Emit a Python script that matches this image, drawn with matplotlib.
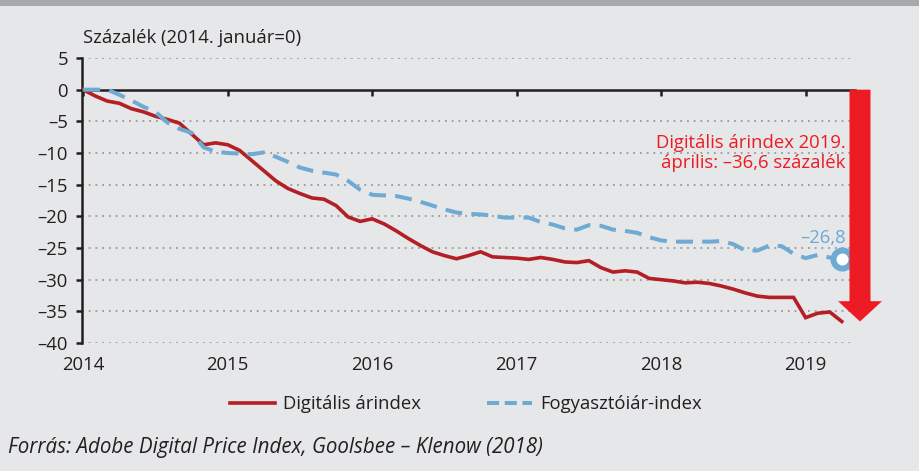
import matplotlib
matplotlib.use("Agg")
import matplotlib.pyplot as plt
import matplotlib.transforms as mtransforms
from matplotlib.patches import Polygon, Rectangle
from matplotlib.lines import Line2D
from matplotlib.ticker import FuncFormatter

plt.rcParams['font.family'] = ['Open Sans', 'DejaVu Sans']

# Monthly data, Jan 2014 .. Apr 2019 (percent, Jan 2014 = 0)
digital = [0, -1.0, -1.8, -2.15, -3.0, -3.5, -4.2, -4.7, -5.3, -7.0, -8.7, -8.4,
           -8.7, -9.6, -11.2, -12.8, -14.4, -15.6, -16.4, -17.1, -17.3, -18.3, -20.1, -20.8,
           -20.4, -21.2, -22.3, -23.5, -24.6, -25.6, -26.2, -26.7, -26.2, -25.6, -26.4, -26.5,
           -26.6, -26.8, -26.5, -26.8, -27.2, -27.3, -27.0, -28.1, -28.8, -28.6, -28.8, -29.8,
           -30.0, -30.2, -30.5, -30.4, -30.6, -31.0, -31.5, -32.1, -32.6, -32.8, -32.8, -32.8,
           -36.0, -35.3, -35.1, -36.6]
cpi = [0, 0, 0, -0.8, -1.7, -2.7, -3.5, -5.2, -6.2, -6.8, -9.1, -9.8,
       -10.0, -10.1, -10.2, -9.9, -10.6, -11.4, -12.3, -12.8, -13.1, -13.4, -14.4, -15.8,
       -16.6, -16.7, -16.8, -17.2, -17.7, -18.3, -18.9, -19.4, -19.6, -19.7, -19.9, -20.2,
       -20.2, -20.2, -20.9, -21.3, -21.9, -22.1, -21.4, -21.5, -22.1, -22.3, -22.6, -23.3,
       -23.8, -24.0, -24.0, -24.0, -24.0, -23.9, -24.4, -25.4, -25.4, -24.6, -24.7, -25.9,
       -26.6, -26.1, -26.5, -26.8]
months = list(range(len(digital)))
year_labels = ['2014', '2015', '2016', '2017', '2018', '2019']
year_pos = [12 * i for i in range(len(year_labels))]
y_ticks = list(range(5, -41, -5))

series_names = ['Digitális árindex', 'Fogyasztóiár-index']
red = '#b31f25'
blue = '#6faad4'
arrow_red = '#ed1c24'
bg = '#e6e7e8'
ink = '#231f20'
FS = 13.3

W, H = 919, 471
fig = plt.figure(figsize=(W / 100, H / 100), dpi=100, facecolor=bg)
# top dark band
fig.patches.append(Rectangle((0, (H - 6) / H), 1, 6 / H, transform=fig.transFigure,
                             facecolor='#a7a9ac', edgecolor='none', zorder=0))

ax = fig.add_axes([82 / W, 1 - 343 / H, (855 - 82) / W, (343 - 58) / H])
ax.set_facecolor(bg)
ax.set_xlim(-0.1, 64.1)
ax.set_ylim(-40, 5)
bt = mtransforms.blended_transform_factory(ax.transAxes, ax.transData)

# grid
for y in y_ticks:
    if y != 0:
        ax.plot([0, 0.996], [y, y], transform=bt,
                color='#8c8c8c', lw=1.1, ls=(0, (1.2, 3.2)), zorder=1)

ax.plot(months, digital, color=red, lw=2.6, solid_joinstyle='miter', zorder=3)
ax.plot(months, cpi, color=blue, lw=2.9, dashes=(4.2, 2.3), zorder=3)
ax.plot([months[-1]], [cpi[-1]], marker='o', ms=13, mfc='white', mec=blue, mew=4.3, zorder=4)

# spines
for s in ['top', 'right']:
    ax.spines[s].set_visible(False)
ax.spines['left'].set_linewidth(1.8)
ax.spines['left'].set_color(ink)
ax.spines['bottom'].set_position(('data', 0))
ax.spines['bottom'].set_linewidth(1.8)
ax.spines['bottom'].set_color(ink)
ax.spines['bottom'].set_zorder(2)

ax.set_yticks(y_ticks)
ax.yaxis.set_major_formatter(FuncFormatter(lambda v, p: ('–' if v < 0 else '') + str(abs(int(v)))))
ax.tick_params(axis='y', direction='out', length=4, width=1.8, color=ink,
               labelsize=FS, labelcolor=ink, pad=6)
ax.set_xticks(year_pos)
ax.tick_params(axis='x', direction='out', length=4, width=1.8, color=ink, labelbottom=False)

secax = ax.secondary_xaxis(0)
secax.set_xticks(year_pos)
secax.set_xticklabels(year_labels)
secax.tick_params(length=0, pad=9, labelsize=FS, labelcolor=ink)
for s in secax.spines.values():
    s.set_visible(False)

# title
fig.text(83 / W, 1 - 38 / H, 'Százalék (2014. január=0)', fontsize=FS, color=ink,
         ha='left', va='center')

# big red arrow, x in axes fraction, y in data
xc = (860 - 82) / (855 - 82)
sw = 10.5 / (855 - 82)
hw = 22 / (855 - 82)
tip = digital[-1]
head_len = 3.2
verts = [(xc - sw, 0), (xc + sw, 0), (xc + sw, tip + head_len), (xc + hw, tip + head_len),
         (xc, tip), (xc - hw, tip + head_len), (xc - sw, tip + head_len)]
ax.add_patch(Polygon(verts, closed=True, transform=bt, facecolor=arrow_red, edgecolor='none',
                     clip_on=False, zorder=5))

ax.text(0.988, 1 - (153 - 58) / (343 - 58),
        'Digitális árindex 2019.\náprilis: –36,6 százalék', transform=ax.transAxes,
        ha='right', va='center', fontsize=FS, color=arrow_red, linespacing=1.12)
ax.text(0.988, cpi[-1] + 3.4, '–' + f'{abs(cpi[-1]):.1f}'.replace('.', ','),
        transform=bt, ha='right', va='center', fontsize=FS, color=blue)

# legend
handles = [Line2D([], [], color=red, lw=2.6),
           Line2D([], [], color=blue, lw=2.9, dashes=(3.0, 1.4))]
fig.legend(handles, series_names, loc='center', bbox_to_anchor=(466 / W, 1 - 404 / H),
           ncol=2, frameon=False, fontsize=FS, handlelength=2.4, handletextpad=0.45,
           columnspacing=3.6, labelcolor=ink)

fig.text(8 / W, 1 - 447 / H, 'Forrás: Adobe Digital Price Index, Goolsbee – Klenow (2018)',
         fontsize=14.8, style='italic', color=ink, ha='left', va='center')

fig.savefig('out.png', dpi=100, facecolor=bg)
